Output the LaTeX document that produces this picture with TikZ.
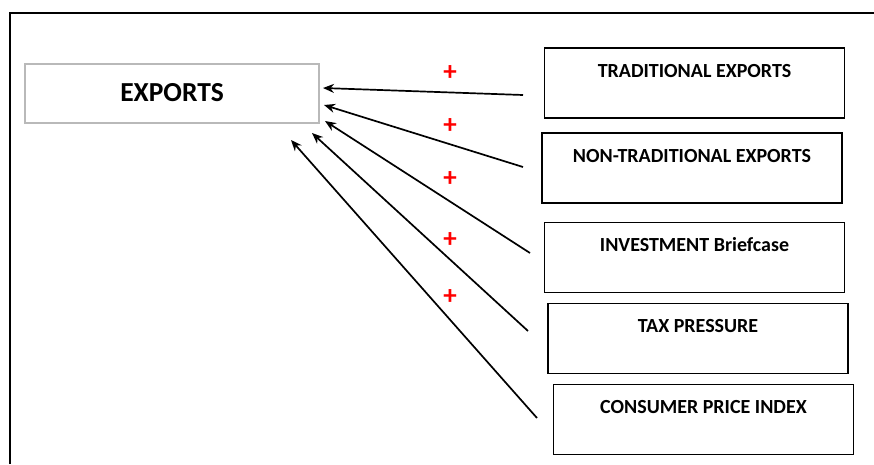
\documentclass[tikz,border=0pt]{standalone}
\usepackage{fontspec}
\setmainfont{Carlito}
\usetikzlibrary{arrows.meta}

\begin{document}
\begin{tikzpicture}[x=1pt,y=-1pt,
    factor/.style={draw,line width=1.8pt,minimum width=300pt,inner xsep=0pt,inner ysep=0pt,
      text height=29pt,text depth=41pt,font=\bfseries\fontsize{20}{23}\selectfont},
    link/.style={-{Stealth[length=11pt,width=9pt]},line width=1.7pt},
    sign/.style={text=red,font=\bfseries\fontsize{27}{27}\selectfont}]
    \useasboundingbox (0,0) rectangle (874,464);
    \draw[line width=2.2pt] (10,464) -- (10,13) -- (874,13);

    \node[draw=gray!55,line width=2pt,minimum width=294pt,minimum height=59pt,
      font=\bfseries\fontsize{27.5}{30}\selectfont] (exports) at (172,93) {EXPORTS};

    \node[factor] (trad) at (694.5,83) {TRADITIONAL EXPORTS};
    \node[factor] (nontrad) at (692,168) {NON-TRADITIONAL EXPORTS};
    \node[factor] (invest) at (694.5,257.5) {INVESTMENT Briefcase};
    \node[factor] (tax) at (698,338.5) {TAX PRESSURE};
    \node[factor] (cpi) at (703.5,419.5) {CONSUMER PRICE INDEX};

    % arrows into EXPORTS, with their signs
    \foreach \n/\sx/\sy/\ex/\ey/\py in {1/523/95/323/88/73,2/523/167/324/105/126,
      3/530/253/325/121/179,4/528/331/312/133/240,5/537/418/291/140/297}{
      \coordinate (s\n) at (\sx,\sy);
      \coordinate (e\n) at (\ex,\ey);
      \draw[link] (s\n) -- (e\n);
      \node[sign] (p\n) at (450,\py) {+};
    }
\end{tikzpicture}
\end{document}
